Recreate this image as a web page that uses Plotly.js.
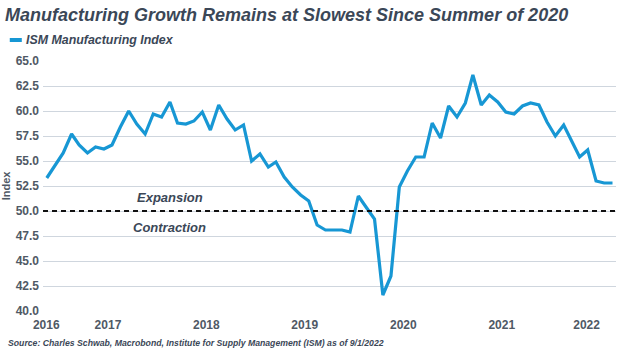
<!DOCTYPE html>
<html>
<head>
<meta charset="utf-8">
<script src="https://cdn.plot.ly/plotly-3.0.1.min.js"></script>
<style>
html,body{margin:0;padding:0;background:#fff;}
#chart{width:630px;height:354px;}
</style>
</head>
<body>
<div id="chart"></div>
<script>
const months = [
 '2016-11-01','2016-12-01',
 '2017-01-01','2017-02-01','2017-03-01','2017-04-01','2017-05-01','2017-06-01','2017-07-01','2017-08-01','2017-09-01','2017-10-01','2017-11-01','2017-12-01',
 '2018-01-01','2018-02-01','2018-03-01','2018-04-01','2018-05-01','2018-06-01','2018-07-01','2018-08-01','2018-09-01','2018-10-01','2018-11-01','2018-12-01',
 '2019-01-01','2019-02-01','2019-03-01','2019-04-01','2019-05-01','2019-06-01','2019-07-01','2019-08-01','2019-09-01','2019-10-01','2019-11-01','2019-12-01',
 '2020-01-01','2020-02-01','2020-03-01','2020-04-01','2020-05-01','2020-06-01','2020-07-01','2020-08-01','2020-09-01','2020-10-01','2020-11-01','2020-12-01',
 '2021-01-01','2021-02-01','2021-03-01','2021-04-01','2021-05-01','2021-06-01','2021-07-01','2021-08-01','2021-09-01','2021-10-01','2021-11-01','2021-12-01',
 '2022-01-01','2022-02-01','2022-03-01','2022-04-01','2022-05-01','2022-06-01','2022-07-01','2022-08-01'
];
const ismIndex = [
 53.3, 54.6,
 55.8, 57.7, 56.6, 55.8, 56.4, 56.2, 56.6, 58.4, 60.0, 58.7, 57.7, 59.7,
 59.4, 60.9, 58.8, 58.7, 59.0, 59.9, 58.1, 60.6, 59.2, 58.1, 58.6, 55.0,
 55.7, 54.4, 54.9, 53.4, 52.4, 51.6, 51.0, 48.6, 48.1, 48.1, 48.1, 47.9,
 51.5, 50.3, 49.2, 41.6, 43.5, 52.4, 54.0, 55.4, 55.4, 58.8, 57.3, 60.5,
 59.4, 60.8, 63.6, 60.6, 61.6, 60.9, 59.9, 59.7, 60.5, 60.8, 60.6, 58.9,
 57.5, 58.6, 57.1, 55.4, 56.1, 53.0, 52.8, 52.8
];
const yearLabels = ['2016','2017','2018','2019','2020','2021','2022'];
const yearLabelPos = ['2016-10-30','2017-06-16','2018-06-16','2019-06-16','2020-06-16','2021-06-16','2022-04-27'];
const threshold = 50;
const seriesName = 'ISM Manufacturing Index';

const FONT = 'Liberation Sans, Arial, sans-serif';
const DARK = '#3b4757';
const TICK = '#4f5965';
const BLUE = '#1797d4';

const trace = {
  x: months, y: ismIndex, type: 'scatter', mode: 'lines', name: seriesName,
  line: {color: BLUE, width: 3.2}, showlegend: false, hoverinfo: 'x+y'
};

const layout = {
  width: 630, height: 354,
  margin: {l: 43, r: 14, t: 61, b: 43},
  paper_bgcolor: '#fff', plot_bgcolor: '#fff',
  font: {family: FONT, color: TICK},
  title: {
    text: '<b><i>Manufacturing Growth Remains at Slowest Since Summer of 2020</i></b>',
    font: {family: FONT, size: 18, color: DARK},
    x: 0.008, xanchor: 'left', y: 0.975, yanchor: 'top', xref: 'container', yref: 'container'
  },
  xaxis: {
    type: 'date', range: ['2016-10-18', '2022-08-14'],
    tickmode: 'array', tickvals: yearLabelPos, ticktext: yearLabels.map(t => '<b>' + t + '</b>'),
    showgrid: false, zeroline: false, showline: false, ticks: '', ticklabelstandoff: 5,
    tickfont: {family: FONT, size: 12, color: TICK}, fixedrange: true
  },
  yaxis: {
    range: [40, 65], tickmode: 'linear', tick0: 40, dtick: 2.5,
    tickformat: '.1f', showgrid: true, gridcolor: '#cfd6de', gridwidth: 1,
    zeroline: false, showline: false, ticks: '', ticklabelstandoff: 3,
    tickfont: {family: FONT, size: 12, color: TICK, weight: 'bold'},
    title: {text: '<b>Index</b>', font: {family: FONT, size: 11, color: TICK}, standoff: 4},
    fixedrange: true
  },
  shapes: [
    {type: 'line', xref: 'paper', x0: 0, x1: 1, yref: 'y', y0: threshold, y1: threshold,
     line: {color: '#111', width: 2, dash: '5px,4px'}, layer: 'above'},
    {type: 'line', xref: 'paper', yref: 'paper', x0: -0.058, x1: -0.037, y0: 1.084, y1: 1.084,
     line: {color: BLUE, width: 4}}
  ],
  annotations: [
    {text: '<b><i>' + seriesName + '</i></b>', xref: 'paper', yref: 'paper', x: -0.033, y: 1.084,
     xanchor: 'left', yanchor: 'middle', showarrow: false, font: {family: FONT, size: 12.4, color: DARK}},
    {text: '<b><i>Expansion</i></b>', xref: 'x', yref: 'y', x: '2018-02-01', y: 51.35,
     xanchor: 'center', yanchor: 'middle', showarrow: false, font: {family: FONT, size: 13, color: DARK}},
    {text: '<b><i>Contraction</i></b>', xref: 'x', yref: 'y', x: '2018-02-01', y: 48.4,
     xanchor: 'center', yanchor: 'middle', showarrow: false, font: {family: FONT, size: 13, color: DARK}},
    {text: '<b><i>Source: Charles Schwab, Macrobond, Institute for Supply Management (ISM) as of 9/1/2022</i></b>',
     xref: 'paper', yref: 'paper', x: -0.064, y: -0.1, xanchor: 'left', yanchor: 'top', showarrow: false,
     font: {family: FONT, size: 8.7, color: DARK}}
  ]
};

Plotly.newPlot('chart', [trace], layout, {displayModeBar: false, staticPlot: true});
</script>
</body>
</html>
